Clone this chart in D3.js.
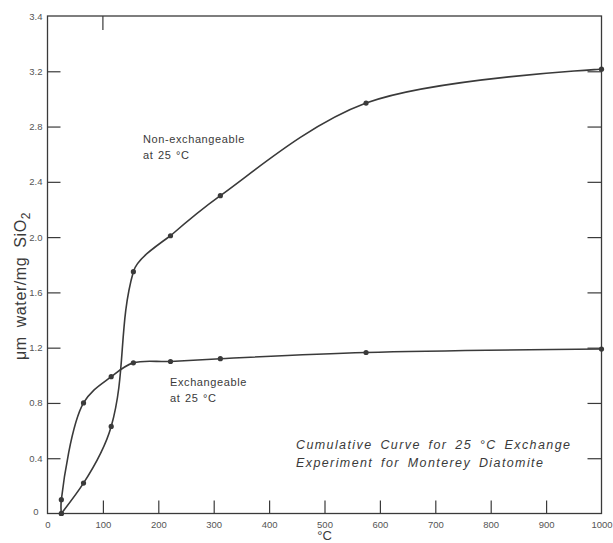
<!DOCTYPE html>
<html>
<head>
<meta charset="utf-8">
<script src="https://cdn.jsdelivr.net/npm/d3@7"></script>
<style>
  html, body { margin: 0; padding: 0; background: #fff; }
  svg { display: block; font-family: "Liberation Sans", Arial, sans-serif; }
</style>
</head>
<body>
<svg id="chart" width="613" height="543"></svg>
<script>
// ---- data ----
const temperatures = [25, 65, 115, 155, 222, 312, 575, 1000];
const exchangeable = [0.10, 0.80, 0.99, 1.09, 1.10, 1.12, 1.165, 1.19];
const nonExchangeable = [0.00, 0.22, 0.63, 1.75, 2.01, 2.30, 2.97, 3.215];
const startPoint = { t: 25, v: 0 };
const xTickValues = [0, 100, 200, 300, 400, 500, 600, 700, 800, 900, 1000];
const yTickValues = [0, 0.4, 0.8, 1.2, 1.6, 2.0, 2.4, 2.8, 3.2, 3.6];
const yTickLabels = ["0", "0.4", "0.8", "1.2", "1.6", "2.0", "2.4", "2.8", "3.2", "3.4"];
const topTickValues = [100];

const svg = d3.select("#chart");
const L = 47.5, R = 601.5, T = 16, B = 513.5;
const x = d3.scaleLinear().domain([0, 1000]).range([L, R]);
const y = d3.scaleLinear().domain([0, 3.6]).range([B, T]);
const ink = "#3a3a3a";
const labelInk = "#555";

// frame
svg.append("rect").attr("x", L).attr("y", T).attr("width", R - L).attr("height", B - T)
  .attr("fill", "none").attr("stroke", ink).attr("stroke-width", 1.3);

// bottom axis (ticks inward)
const xAxis = svg.append("g").attr("transform", `translate(0,${B})`)
  .call(d3.axisBottom(x).tickValues(xTickValues).tickSize(0).tickPadding(0).tickFormat(d3.format("d")));
xAxis.select(".domain").remove();
xAxis.selectAll(".tick line").attr("y1", 0).attr("y2", -13).attr("stroke", ink).attr("stroke-width", 1.2);
xAxis.selectAll(".tick text").attr("y", 14).attr("dy", 0).attr("fill", labelInk)
  .style("font-size", "9.5px");
xAxis.selectAll(".tick").filter(d => d === 0 || d === 1000).select("line").remove();

// top ticks
svg.append("g").selectAll("line").data(topTickValues).join("line")
  .attr("x1", d => x(d)).attr("x2", d => x(d)).attr("y1", T).attr("y2", T + 14)
  .attr("stroke", ink).attr("stroke-width", 1.2);

// left axis (ticks inward)
const yAxis = svg.append("g").attr("transform", `translate(${L},0)`)
  .call(d3.axisLeft(y).tickValues(yTickValues).tickSize(0).tickPadding(0)
    .tickFormat((d, i) => yTickLabels[i]));
yAxis.select(".domain").remove();
yAxis.selectAll(".tick line").attr("x1", 0).attr("x2", 13).attr("stroke", ink).attr("stroke-width", 1.2);
yAxis.selectAll(".tick text").attr("x", -5).attr("fill", labelInk).style("font-size", "9.5px");
yAxis.selectAll(".tick").filter(d => d === 0 || d === 3.6).select("line").remove();
yAxis.selectAll(".tick").filter(d => d === 0).select("text").attr("x", -9).attr("dy", "0.1em");

// right axis ticks (inward)
const yAxisR = svg.append("g").attr("transform", `translate(${R},0)`)
  .call(d3.axisRight(y).tickValues(yTickValues.filter(d => d > 0 && d < 3.6)).tickSize(0).tickFormat(""));
yAxisR.select(".domain").remove();
yAxisR.selectAll(".tick line").attr("x1", 0).attr("x2", -14).attr("stroke", ink).attr("stroke-width", 1.2);

// axis titles
svg.append("text").attr("x", x(500)).attr("y", 540).attr("text-anchor", "middle")
  .attr("fill", ink).style("font-size", "13px").text("°C");

const yt = svg.append("text").attr("transform", `translate(26,286) rotate(-90)`)
  .attr("text-anchor", "middle").attr("fill", ink).style("font-size", "16px")
  .style("word-spacing", "4px").style("letter-spacing", "0.6px");
yt.append("tspan").text("μm water/mg SiO");
yt.append("tspan").attr("dy", 4).style("font-size", "12px").text("2");

// curves
const exData = [startPoint].concat(temperatures.map((t, i) => ({ t, v: exchangeable[i] })));
const nonData = temperatures.map((t, i) => ({ t, v: nonExchangeable[i] }));
const crom = d3.line().x(d => x(d.t)).y(d => y(d.v)).curve(d3.curveCatmullRom.alpha(0.5));
const monoY = d3.line().x(d => x(d.t)).y(d => y(d.v)).curve(d3.curveMonotoneY);
const split = 4; // steep low-temperature part vs. gentle high-temperature part

const drawPath = (data, gen) => svg.append("path").datum(data).attr("d", gen)
  .attr("fill", "none").attr("stroke", ink).attr("stroke-width", 1.6)
  .attr("stroke-linejoin", "round");
drawPath(exData, crom);
drawPath(nonData.slice(0, split + 1), monoY);
drawPath(nonData.slice(split), crom);

[exData, nonData].forEach(data => {
  svg.append("g").selectAll("circle").data(data).join("circle")
    .attr("cx", d => x(d.t)).attr("cy", d => y(d.v)).attr("r", 2.6).attr("fill", ink);
});

// annotations
const ann = (lines, px, py, size, italic, ls, ws) => {
  const t = svg.append("text").attr("fill", ink).style("font-size", size + "px")
    .style("font-style", italic ? "italic" : "normal").style("letter-spacing", ls + "px")
    .style("word-spacing", ws + "px");
  lines.forEach((s, i) => t.append("tspan").attr("x", px).attr("y", py + i * (size + 5)).text(s));
};
ann(["Non-exchangeable", "at 25 °C"], 143, 143, 11, false, 0.6, 1);
ann(["Exchangeable", "at 25 °C"], 170, 386, 11, false, 0.6, 1);
ann(["Cumulative Curve for 25 °C Exchange", "Experiment for Monterey Diatomite"], 296, 449, 12.5, true, 1.4, 3);
</script>
</body>
</html>
